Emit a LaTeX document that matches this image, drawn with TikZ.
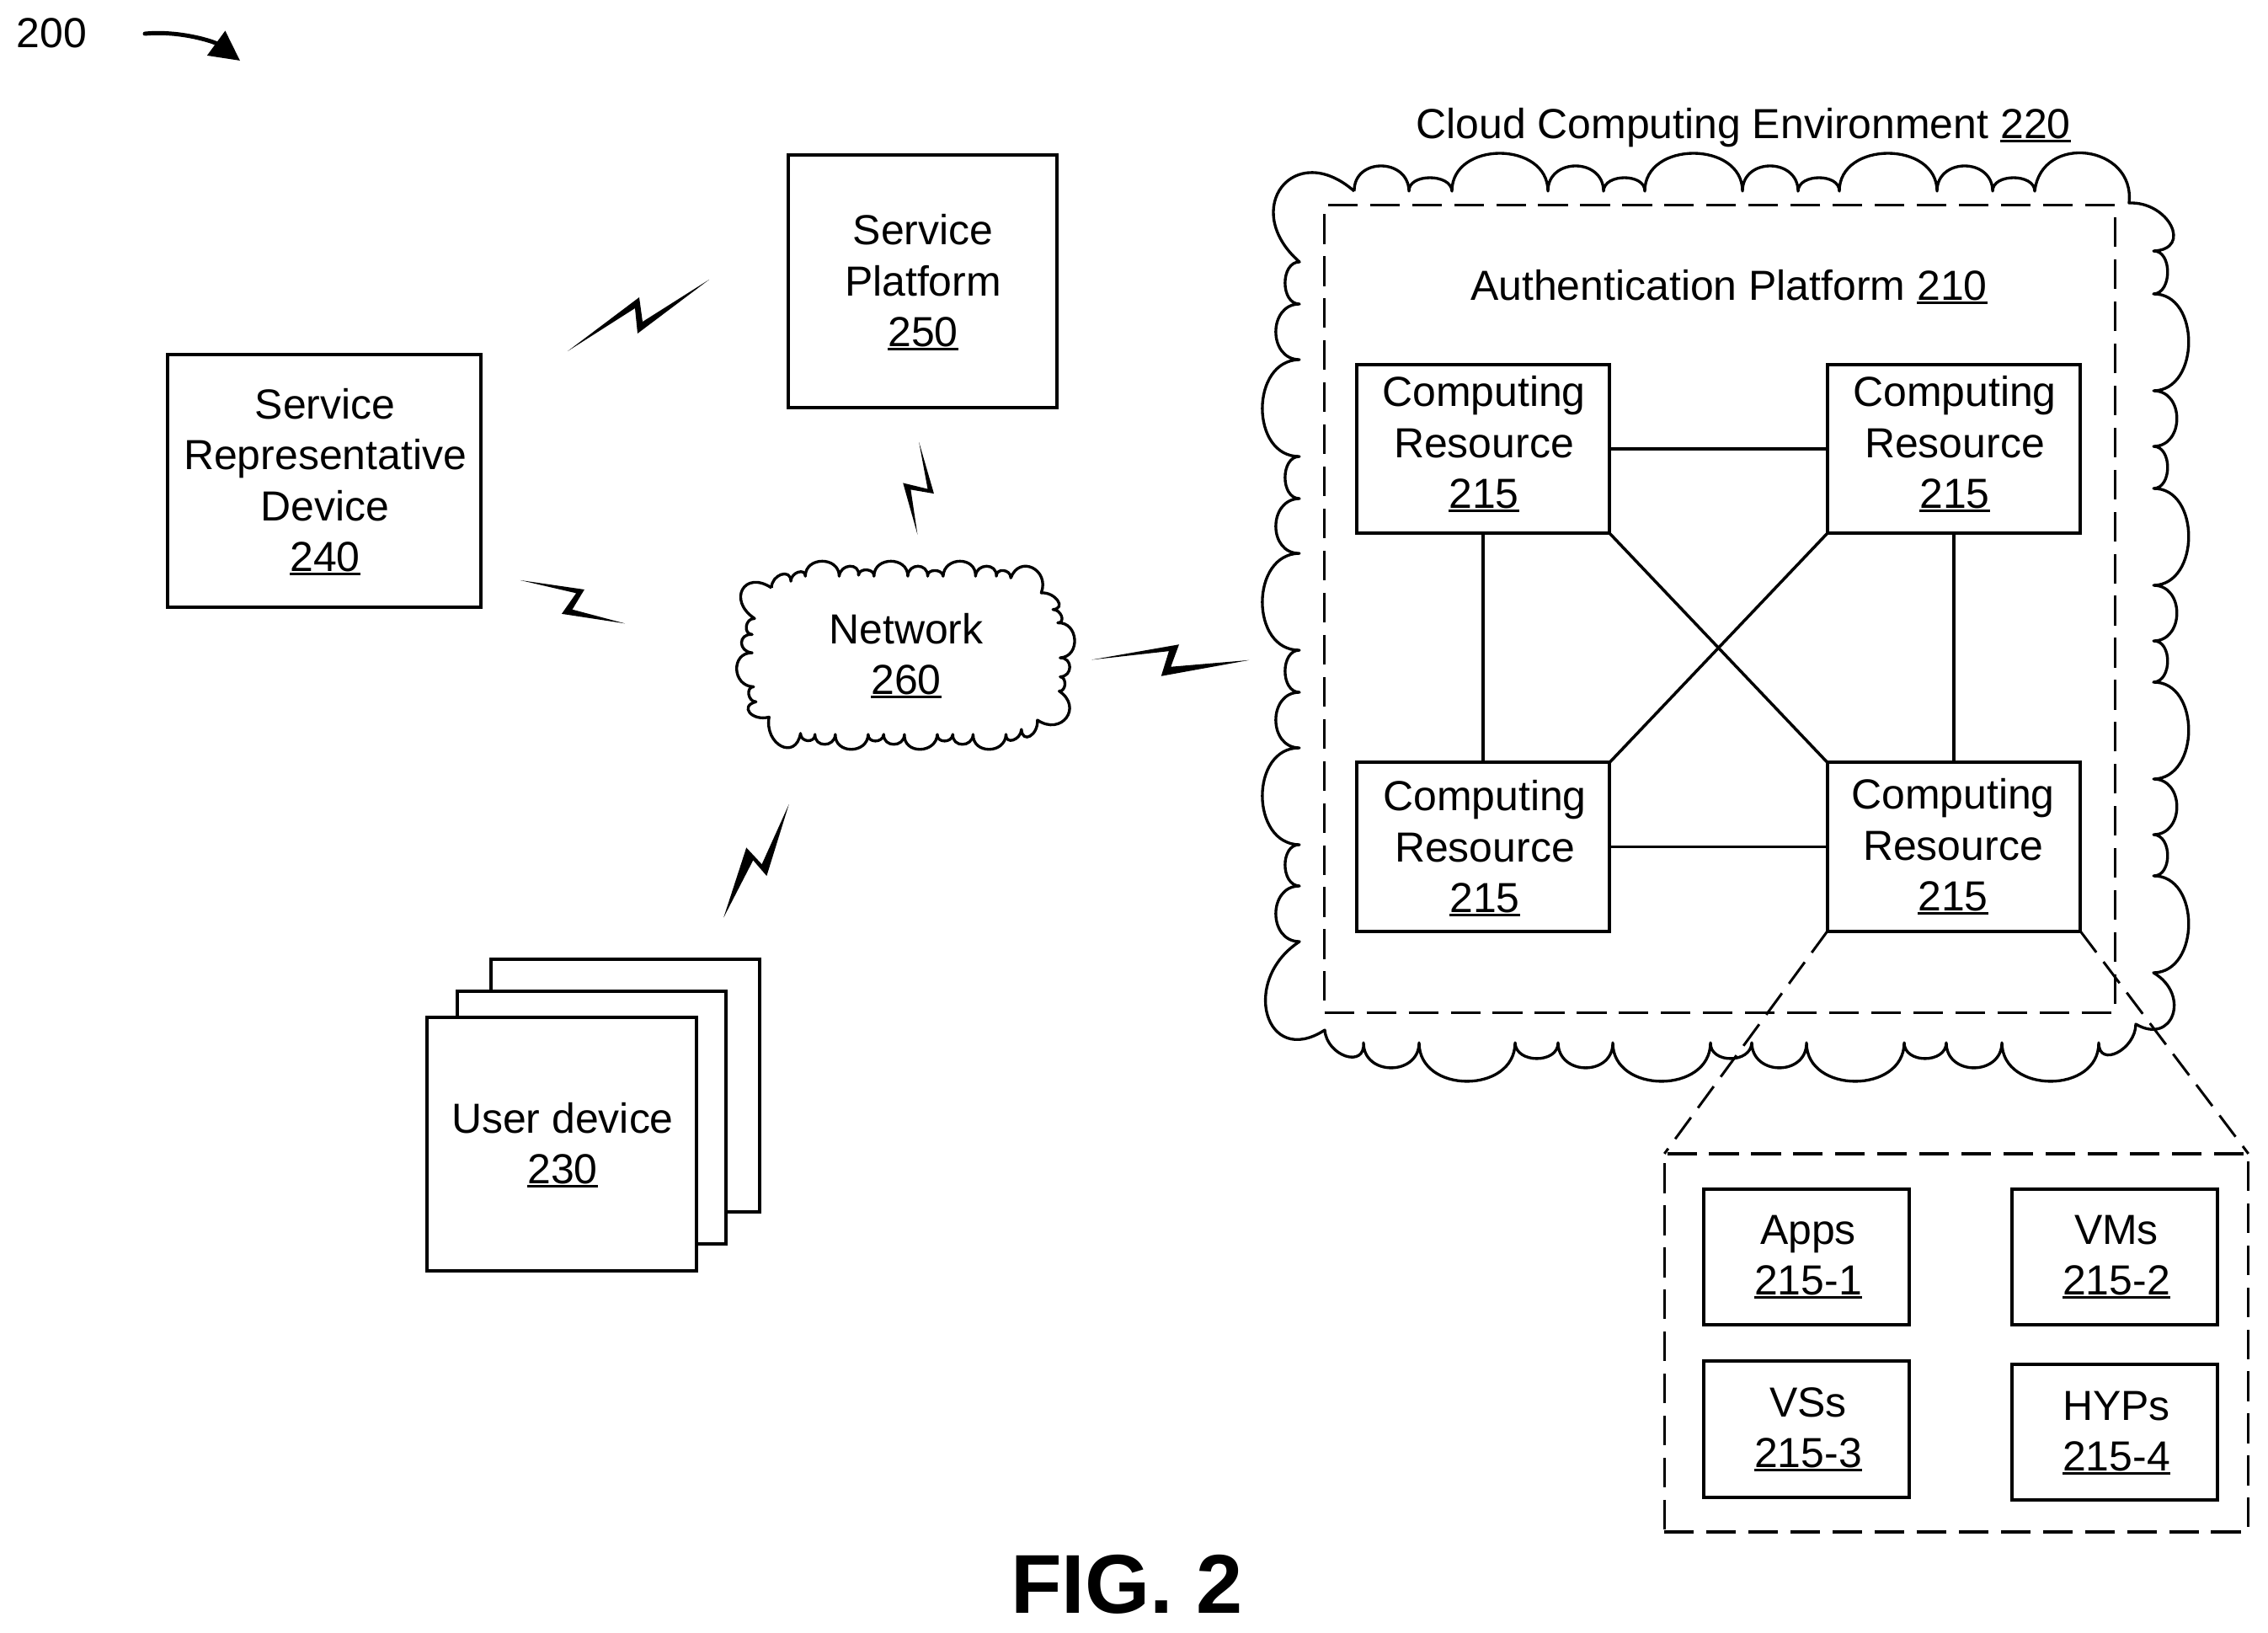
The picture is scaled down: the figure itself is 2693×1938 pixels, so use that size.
\documentclass[tikz,border=0pt]{standalone}
\usepackage{fontspec}
\setmainfont{Liberation Sans}
\usetikzlibrary{calc,arrows.meta}
\newcommand\uln[1]{\leavevmode\setbox0\hbox{#1}\rlap{\rule[-1.2pt]{\wd0}{0.85pt}}\box0}
\newcommand\lobes[3]{(#1,#2) \foreach \px/\py/\bx/\by [remember=\bx as \ax (initially #1), remember=\by as \ay (initially #2)] in {#3} { .. controls ($0.3333*(\ax,\ay)+1.3333*(\px,\py)-0.6667*(\bx,\by)$) and ($0.3333*(\bx,\by)+1.3333*(\px,\py)-0.6667*(\ax,\ay)$) .. (\bx,\by) }}
\tikzset{
  x=0.01cm,y=-0.01cm,
  bx/.style={draw=black,line width=1.14pt,fill=white,inner sep=0pt,outer sep=0pt,rectangle},
  tx/.style={font=\fontsize{14.2}{17.2}\selectfont,align=center,anchor=south,inner sep=0pt,outer sep=0pt},
  wire/.style={draw=black,line width=1pt},
  cloudline/.style={draw=black,line width=0.95pt,line join=round},
  dbox/.style={draw=black,line width=0.95pt,rectangle,inner sep=0pt,outer sep=0pt,dash pattern=on 10pt off 4.2pt},
  zoomline/.style={draw=black,line width=0.85pt,dash pattern=on 9pt off 4pt},
  bolt/.style={fill=black,draw=none},
}
\begin{document}
\begin{tikzpicture}
\useasboundingbox (0,0) rectangle (2693,1938);
% outer cloud
\draw[cloudline] \lobes{1608}{227}{1640/197/1673/227,1698/211/1724/227,1781/182/1838/227,1871/197/1904/227,1929/211/1953/227,2011/182/2069/227,2102/197/2135/227,2160/211/2184/227,2242/182/2300/227,2333/197/2366/227,2391/211/2416/227,2478/182/2528/241,2578/268/2557/298,2574/323/2557/349,2599/406/2557/464,2585/497/2557/530,2574/555/2557/580,2599/637/2557/695,2585/728/2557/761,2574/785/2557/810,2599/867/2557/925,2585/958/2557/991,2574/1016/2557/1040,2599/1097/2557/1155,2580/1205/2536/1216,2514/1250/2492/1238,2435/1284/2377/1238,2344/1268/2311/1238,2286/1257/2261/1238,2203/1284/2145/1238,2113/1268/2080/1238,2055/1257/2031/1238,1973/1284/1915/1238,1883/1268/1850/1238,1825/1257/1799/1238,1742/1284/1685/1238,1652/1268/1619/1238,1598/1254/1573/1223,1505/1205/1543/1118,1515/1085/1543/1052,1526/1027/1543/1003,1499/945/1543/888,1515/855/1543/822,1526/797/1543/772,1499/715/1543/657,1515/625/1543/592,1526/567/1543/542,1499/485/1543/427,1515/394/1543/361,1526/336/1543/311,1522/222/1608/227};
\node[tx] (cloudlabel) at (2070,175) {Cloud Computing Environment \uln{220}};
% authentication platform
\node[dbox,minimum width=9.38cm,minimum height=9.58cm] (ap) at (2042,723) {};
\node[tx] (aplabel) at (2053,361) {Authentication Platform \uln{210}};
% computing resources
\node[bx,minimum width=3cm,minimum height=2cm] (cr1) at (1761,533) {};
\node[bx,minimum width=3cm,minimum height=2cm] (cr2) at (2320,533) {};
\node[bx,minimum width=3cm,minimum height=2cm] (cr3) at (1761,1005.5) {};
\node[bx,minimum width=3cm,minimum height=2cm] (cr4) at (2320,1005.5) {};
\draw[wire] (cr1) -- (cr2);
\draw[wire] (cr1) -- (cr3);
\draw[wire] (cr2) -- (cr4);
\draw[wire] (cr3) -- (cr4);
\draw[wire] (cr1.south east) -- (cr4.north west);
\draw[wire] (cr2.south west) -- (cr3.north east);
\node[tx] (cr1t) at (1762,608) {Computing\\Resource\\\uln{215}};
\node[tx] (cr2t) at (2321,608) {Computing\\Resource\\\uln{215}};
\node[tx] (cr3t) at (1763,1088) {Computing\\Resource\\\uln{215}};
\node[tx] (cr4t) at (2319,1086) {Computing\\Resource\\\uln{215}};
% exploded view
\node[dbox,minimum width=6.93cm,minimum height=4.49cm] (zr) at (2323,1594.5) {};
\draw[zoomline] (cr4.south west) -- (zr.north west);
\draw[zoomline] (cr4.south east) -- (zr.north east);
\node[bx,minimum width=2.44cm,minimum height=1.61cm] (apps) at (2145,1492.5) {};
\node[bx,minimum width=2.44cm,minimum height=1.61cm] (vms) at (2511,1492.5) {};
\node[bx,minimum width=2.44cm,minimum height=1.62cm] (vss) at (2145,1697) {};
\node[bx,minimum width=2.44cm,minimum height=1.61cm] (hyps) at (2511,1700.5) {};
\node[tx] (appst) at (2147,1542) {Apps\\\uln{215-1}};
\node[tx] (vmst) at (2513,1542) {VMs\\\uln{215-2}};
\node[tx] (vsst) at (2147,1747) {VSs\\\uln{215-3}};
\node[tx] (hypst) at (2513,1751) {HYPs\\\uln{215-4}};
% service representative, platform
\node[bx,minimum width=3.71cm,minimum height=3cm] (srd) at (385,571) {};
\node[tx] (srdt) at (386,683) {Service\\Representative\\Device\\\uln{240}};
\node[bx,minimum width=3.19cm,minimum height=3cm] (sp) at (1095.5,334) {};
\node[tx] (spt) at (1096,416) {Service\\Platform\\\uln{250}};
% user devices
\node[bx,minimum width=3.19cm,minimum height=3cm] (ud3) at (742.5,1289) {};
\node[bx,minimum width=3.19cm,minimum height=3cm] (ud2) at (702.5,1327) {};
\node[bx,minimum width=3.2cm,minimum height=3.01cm] (ud1) at (667,1358.5) {};
\node[tx] (ud1t) at (668,1410) {User device\\\uln{230}};
% network cloud and zigzags
\begin{scope}[shift={(6cm,-5cm)},x=0.00574cm,y=-0.00395cm]
\draw[cloudline] \lobes{550}{500}{570/460/590/480,605/453/620/465,655/420/690/465,712/435/730/462,747/446/762/465,797/420/832/465,853/435/873/465,888/448/905/465,940/420/972/465,995/435/1015/465,1030/448/1045/470,1090/440/1108/515,1142/538/1132/565,1150/585/1142/605,1177/655/1147/710,1167/738/1147/767,1157/790/1145/810,1160/890/1100/897,1085/945/1067/925,1050/957/1035/940,1000/985/967/940,945/970/925/940,908/960/893/940,857/985/825/940,803/970/782/940,765/960/750/940,715/985/682/940,660/970/640/940,625/959/610/937,570/975/545/888,505/875/518/842,503/820/513/797,478/745/510/695,488/665/510/640,498/615/515/592,490/505/550/500};
\fill[bolt] (855,62) -- (886,217) -- (838,205) -- (852,340) -- (822,185) -- (873,203) -- cycle;
\fill[bolt] (30,477) -- (163,505) -- (138,565) -- (247,607) -- (116,578) -- (146,516) -- cycle;
\fill[bolt] (1212,716) -- (1393,670) -- (1376,737) -- (1538,717) -- (1356,765) -- (1372,690) -- cycle;
\fill[bolt] (586,1150) -- (540,1365) -- (512,1318) -- (451,1490) -- (498,1280) -- (530,1330) -- cycle;
\end{scope}
\fill[bolt] (674,417) -- (759,353) -- (763,382) -- (842,332) -- (757,396) -- (754,366) -- cycle;
\node[tx] (nett) at (1076,829) {Network\\\uln{260}};
% figure label
\node[tx,anchor=south west] (ref200) at (20,57) {200};
\coordinate (arrowstart) at (172,40);
\coordinate (arrowend) at (285,72);
\draw[line width=1.4pt,line cap=round,-{Triangle[length=10pt,width=10pt]}] (arrowstart) .. controls (215,36) and (255,50) .. (arrowend);
\node[anchor=base,font=\fontsize{28.2}{30}\selectfont\bfseries,inner sep=0pt] (fig) at (1338,1915) {FIG. 2};
\end{tikzpicture}
\end{document}
